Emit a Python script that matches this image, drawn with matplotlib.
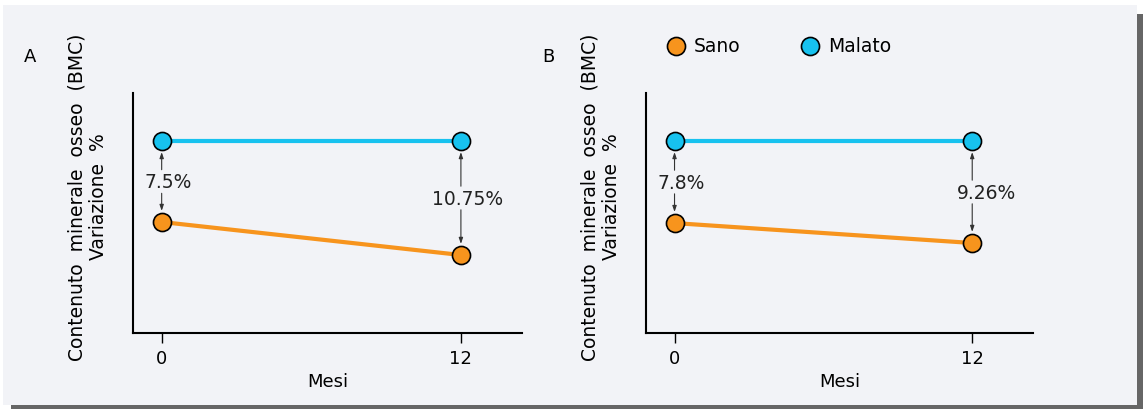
import numpy as np
import matplotlib.pyplot as plt
from matplotlib.lines import Line2D
from matplotlib.patches import Rectangle

# data (y in arbitrary units, 0-100 axis)
mesi = [0, 12]
sano_a = [46.25, 32.5]
malato_a = [80, 80]
sano_b = [45.8, 37.5]
malato_b = [80, 80]
perc_a = ['7.5%', '10.75%']
perc_b = ['7.8%', '9.26%']
off_a = [4.5, 4.5]
off_b = [4.5, 10]

orange = '#F7941D'
blue = '#17C2EF'
bg = '#F2F3F7'

W, H = 1143, 409
fig = plt.figure(figsize=(W / 100, H / 100), dpi=100)
fig.patch.set_facecolor('white')

# panel background + shadow
fig.patches.append(Rectangle((11 / W, 0), 1132 / W, 5 / H, transform=fig.transFigure,
                             facecolor='#666666', edgecolor='none', zorder=-3))
fig.patches.append(Rectangle((1137 / W, 0), 6 / W, (H - 14) / H, transform=fig.transFigure,
                             facecolor='#666666', edgecolor='none', zorder=-3))
fig.patches.append(Rectangle((3 / W, 4 / H), 1134 / W, 400 / H, transform=fig.transFigure,
                             facecolor=bg, edgecolor='none', zorder=-2))


def panel(rect, sano, malato, perc, offs, letter, lx):
    ax = fig.add_axes(rect)
    ax.set_facecolor('none')
    ax.plot(mesi, malato, color=blue, lw=3, marker='o', ms=13,
            mfc=blue, mec='black', mew=1.2, zorder=3, clip_on=False)
    ax.plot(mesi, sano, color=orange, lw=3, marker='o', ms=13,
            mfc=orange, mec='black', mew=1.2, zorder=3, clip_on=False)
    for x, s, m, p, o in zip(mesi, sano, malato, perc, offs):
        mid = (s + m) / 2
        ap = dict(arrowstyle='-|>,head_length=0.35,head_width=0.12', color='#333333',
                  lw=0.8, shrinkA=8.5, shrinkB=8)
        ax.annotate('', xy=(x, m), xytext=(x, mid), arrowprops=ap)
        ax.annotate('', xy=(x, s), xytext=(x, mid), arrowprops=ap)
        ax.annotate(p, xy=(x, mid), xytext=(o, -1), textcoords='offset points',
                    ha='center', va='center', fontsize=13.5, color='#222222')
    ax.set_xlim(-1.15, 14.45)
    ax.set_ylim(0, 100)
    ax.set_xticks(mesi)
    ax.set_yticks([])
    for sp in ['top', 'right']:
        ax.spines[sp].set_visible(False)
    for sp in ['left', 'bottom']:
        ax.spines[sp].set_linewidth(1.5)
    ax.tick_params(axis='x', length=7, width=1, labelsize=13, pad=5)
    ax.set_xlabel('Mesi', fontsize=13, labelpad=4)
    ax.set_ylabel('Contenuto  minerale  osseo  (BMC)\nVariazione  %', fontsize=13.5,
                  linespacing=1.15)
    ax.yaxis.set_label_coords(-0.064, 0.567)
    fig.text(lx / W, 1 - 57 / H, letter, fontsize=13, ha='center', va='center')
    return ax


ax_a = panel([133 / W, 76 / H, 389 / W, 240 / H], sano_a, malato_a, perc_a, off_a, 'A', 30)
ax_b = panel([646 / W, 76 / H, 387 / W, 240 / H], sano_b, malato_b, perc_b, off_b, 'B', 548)

handles = [Line2D([], [], ls='none', marker='o', ms=13, mfc=orange, mec='black', mew=1.2),
           Line2D([], [], ls='none', marker='o', ms=13, mfc=blue, mec='black', mew=1.2)]
fig.legend(handles, ['Sano', 'Malato'], loc='center left', bbox_to_anchor=(667 / W, 1 - 47 / H),
           ncol=2, frameon=False, fontsize=13.5, handlelength=1.0, handletextpad=0.45,
           columnspacing=3.2, borderpad=0, borderaxespad=0)

fig.savefig('out.png', dpi=100, facecolor=fig.get_facecolor())
